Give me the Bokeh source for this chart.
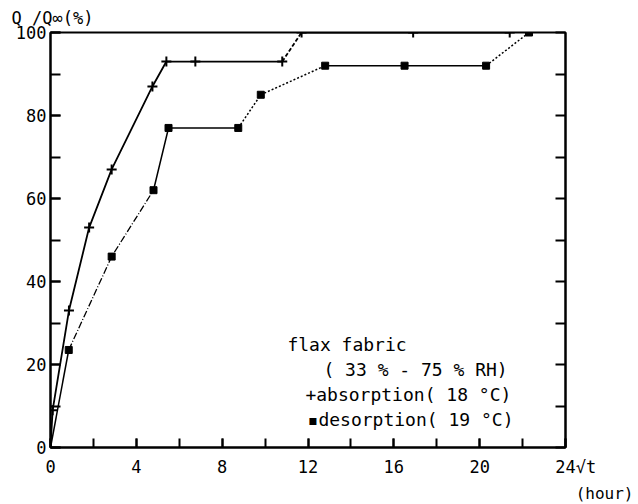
from bokeh.plotting import figure
from bokeh.models import Range1d, LinearAxis, FixedTicker, Label, Title
from bokeh.embed import file_html
from bokeh.resources import INLINE

# ---- data ----
abs_t = [0, 0.1, 0.86, 1.8, 2.85, 4.75, 5.4, 6.75, 10.8, 11.7, 16.9, 21.4]
abs_q = [0, 9, 33, 53, 67, 87, 93, 93, 93, 100, 100, 100]
des_t = [0, 0.85, 2.85, 4.8, 5.5, 8.75, 9.8, 12.8, 16.5, 20.3, 22.3]
des_q = [0, 23.5, 46, 62, 77, 77, 85, 92, 92, 92, 100]
x_ticks = [0, 4, 8, 12, 16, 20, 24]
x_minor = [0, 2, 4, 6, 8, 10, 12, 14, 16, 18, 20, 22, 24]
y_ticks = [0, 20, 40, 60, 80, 100]
y_minor = [0, 10, 20, 30, 40, 50, 60, 70, 80, 90, 100]
y_title = "Q /Q\u221e(%)"
x_title_unit = "(hour)"
legend_lines = ["flax fabric", "( 33 % - 75 % RH)",
                "+absorption( 18 \u00b0C)", "\u25aadesorption( 19 \u00b0C)"]

FONT = "DejaVu Sans Mono"
FS = "17px"

p = figure(width=638, height=504, output_backend="svg", toolbar_location=None,
           x_range=Range1d(0, 24), y_range=Range1d(0, 100),
           min_border_left=50, min_border_right=73, min_border_top=32,
           min_border_bottom=56)
p.grid.visible = False
p.outline_line_color = "black"
p.outline_line_width = 2
p.background_fill_color = "white"
p.border_fill_color = "white"

def style(ax):
    ax.axis_line_color = "black"
    ax.axis_line_width = 2
    ax.major_tick_in = 9
    ax.major_tick_out = 0
    ax.minor_tick_in = 9
    ax.minor_tick_out = 0
    ax.major_tick_line_width = 2
    ax.minor_tick_line_width = 2
    ax.major_tick_line_color = "black"
    ax.minor_tick_line_color = "black"
    ax.major_label_text_font = FONT
    ax.major_label_text_font_size = FS
    ax.major_label_text_color = "black"

xa = p.xaxis[0]
style(xa)
xa.ticker = FixedTicker(ticks=x_ticks, minor_ticks=x_minor)
xa.major_label_standoff = 9
xa.major_label_overrides = {24: "\u00a0\u00a024\u221at"}

ya = p.yaxis[0]
style(ya)
ya.ticker = FixedTicker(ticks=y_ticks, minor_ticks=y_minor)
ya.major_tick_in = 10
ya.minor_tick_in = 10
ya.major_label_standoff = 4

ra = LinearAxis()
style(ra)
ra.ticker = FixedTicker(ticks=y_minor, minor_ticks=[])
ra.major_tick_in = 10
ra.major_label_text_alpha = 0
p.add_layout(ra, "right")

# titles outside the frame
t_top = Title(text=y_title, align="left", offset=-39, standoff=9,
              text_font=FONT, text_font_size=FS, text_font_style="normal",
              text_color="black")
p.add_layout(t_top, "above")
t_bot = Title(text=x_title_unit, align="right", offset=-68, standoff=4,
              text_font=FONT, text_font_size="16px", text_font_style="normal",
              text_color="black")
p.add_layout(t_bot, "below")

# absorption: solid with one dashed segment
p.line(abs_t[:9], abs_q[:9], line_color="black", line_width=1.8)
p.line(abs_t[8:10], abs_q[8:10], line_color="black", line_width=1.8, line_dash="4 2")
p.line(abs_t[9:], abs_q[9:], line_color="black", line_width=1.8)
p.scatter(abs_t[1:], abs_q[1:], marker="cross", size=10, line_color="black", line_width=2)

# desorption: mixed solid / dash-dot / dotted segments
p.line(des_t[0:2], des_q[0:2], line_color="black", line_width=1.5)
p.line(des_t[1:4], des_q[1:4], line_color="black", line_width=1.3, line_dash="7 2 1 2")
p.line(des_t[3:6], des_q[3:6], line_color="black", line_width=1.5)
p.line(des_t[5:8], des_q[5:8], line_color="black", line_width=1.5, line_dash="2 2")
p.line(des_t[7:10], des_q[7:10], line_color="black", line_width=1.5)
p.line(des_t[9:], des_q[9:], line_color="black", line_width=1.5, line_dash="2 2")
p.scatter(des_t[1:], des_q[1:], marker="square", size=7, fill_color="black", line_color="black")

def lab(x, y, t, size="18px"):
    p.add_layout(Label(x=x, y=y, text=t, text_font=FONT, text_font_size=size,
                       text_baseline="middle", text_align="left", text_color="black"))

# legend text (inside the frame)
lab(11.04, 24.8, legend_lines[0])
lab(12.72, 18.8, legend_lines[1])
lab(11.88, 12.7, legend_lines[2])
lab(11.98, 6.7, legend_lines[3])

open("out.html", "w").write(file_html(p, INLINE))
